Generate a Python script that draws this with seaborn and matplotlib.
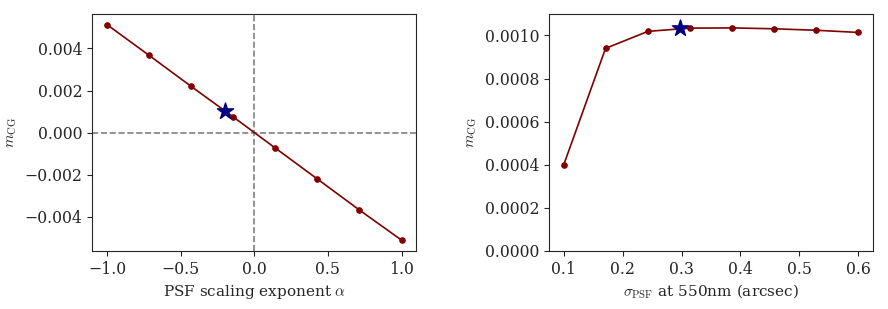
import numpy as np
import seaborn as sns
import matplotlib.pyplot as plt

# left panel: m_CG vs PSF scaling exponent
alpha = [-1.0, -0.714, -0.429, -0.143, 0.143, 0.429, 0.714, 1.0]
m_alpha = [0.00513, 0.00367, 0.00220, 0.00075, -0.00073, -0.00220, -0.00367, -0.00510]
alpha_star = [-0.2]
m_alpha_star = [0.00105]

# right panel: m_CG vs PSF size
sigma = [0.1, 0.171, 0.243, 0.314, 0.386, 0.457, 0.529, 0.6]
m_sigma = [0.000400, 0.000940, 0.001019, 0.001034, 0.001035, 0.001031, 0.001024, 0.001014]
sigma_star = [0.297]
m_sigma_star = [0.001033]

sns.set_style('ticks')
plt.rcParams['font.family'] = ['DejaVu Serif']
plt.rcParams['mathtext.fontset'] = 'cm'
plt.rcParams['font.size'] = 11


def fmt(nd):
    return plt.FuncFormatter(lambda v, p: f'{v:.{nd}f}'.replace('-', '\u2212'))


fig, axes = plt.subplots(1, 2, figsize=(8.88, 3.09), dpi=100)
red = '#800000'
blue = '#000080'

ax = axes[0]
ax.axhline(0, color='gray', ls='--', lw=1.2, zorder=0)
ax.axvline(0, color='gray', ls='--', lw=1.2, zorder=0)
sns.lineplot(x=alpha, y=m_alpha, ax=ax, color=red, lw=1.2, marker='o', ms=4,
             markeredgecolor=red)
sns.scatterplot(x=alpha_star, y=m_alpha_star, ax=ax, color=blue, marker='*', s=150,
                edgecolor=blue, zorder=5)
ax.set_xlabel(r'PSF scaling exponent $\alpha$', fontsize=11)
ax.set_ylabel(r'$m_{\rm CG}$', fontsize=11)
ax.set_xticks([-1.0, -0.5, 0.0, 0.5, 1.0])
ax.set_yticks([-0.004, -0.002, 0.0, 0.002, 0.004])
ax.xaxis.set_major_formatter(fmt(1))
ax.yaxis.set_major_formatter(fmt(3))

ax = axes[1]
sns.lineplot(x=sigma, y=m_sigma, ax=ax, color=red, lw=1.2, marker='o', ms=4,
             markeredgecolor=red)
sns.scatterplot(x=sigma_star, y=m_sigma_star, ax=ax, color=blue, marker='*', s=150,
                edgecolor=blue, zorder=5)
ax.set_ylim(0, 0.0011)
ax.set_yticks(np.arange(0, 0.0011, 0.0002))
ax.yaxis.set_major_formatter(fmt(4))
ax.set_xticks([0.1, 0.2, 0.3, 0.4, 0.5, 0.6])
ax.set_xlabel(r'$\sigma_{\rm PSF}$ at 550nm (arcsec)', fontsize=11)
ax.set_ylabel(r'$m_{\rm CG}$', fontsize=11)

for a in axes:
    a.tick_params(labelsize=11.3)

fig.subplots_adjust(left=0.104, right=0.983, bottom=0.188, top=0.955, wspace=0.41)
fig.savefig('out.png', dpi=100)
